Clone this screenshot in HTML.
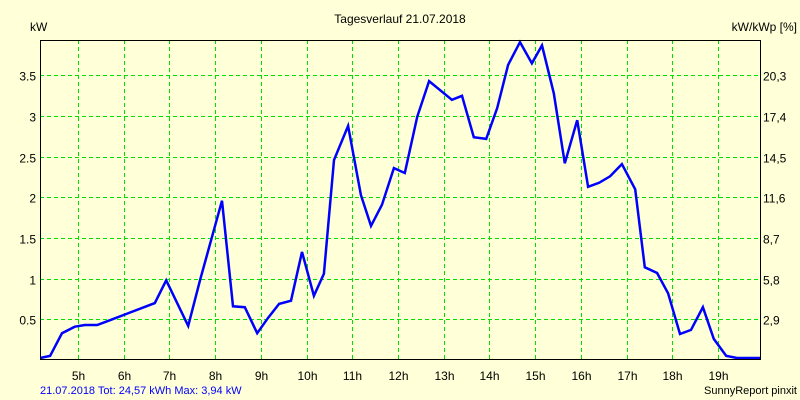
<!DOCTYPE html>
<html><head><meta charset="utf-8"><style>
html,body{margin:0;padding:0;background:#ffffd8;}
svg{display:block;font-family:"Liberation Sans",sans-serif;}
</style></head><body>
<svg id="chart" width="800" height="400" viewBox="0 0 800 400">
<rect x="0" y="0" width="800" height="400" fill="#ffffd8"/>
<text x="400" y="23" text-anchor="middle" font-size="12">Tagesverlauf 21.07.2018</text>
<text x="30" y="31" font-size="12">kW</text>
<text x="797" y="31" text-anchor="end" font-size="12">kW/kWp [%]</text>
<g id="grid"></g>
<g id="series"></g>
<g id="axes"></g>
<text x="40" y="394" font-size="11" fill="#0000ff">21.07.2018 Tot: 24,57 kWh Max: 3,94 kW</text>
<text x="797" y="394" text-anchor="end" font-size="11">SunnyReport pinxit</text>
</svg>
<script>
const hours = [4.17,4.39,4.65,4.93,5.15,5.42,5.70,6.68,6.93,7.41,7.67,8.15,8.39,8.65,8.92,9.16,9.40,9.66,9.90,10.16,10.38,10.60,10.91,11.19,11.41,11.65,11.91,12.15,12.42,12.68,13.18,13.40,13.66,13.93,14.17,14.41,14.67,14.93,15.15,15.41,15.65,15.92,16.16,16.40,16.64,16.90,17.19,17.40,17.67,17.91,18.17,18.41,18.67,18.91,19.18,19.42,19.92];
const powerKW = [0.02,0.05,0.33,0.41,0.43,0.43,0.49,0.70,0.98,0.42,0.98,1.96,0.66,0.65,0.33,0.52,0.69,0.73,1.33,0.79,1.06,2.46,2.88,2.03,1.65,1.91,2.36,2.30,2.99,3.43,3.20,3.25,2.74,2.72,3.10,3.63,3.91,3.65,3.87,3.28,2.42,2.95,2.13,2.18,2.26,2.41,2.10,1.14,1.07,0.82,0.32,0.37,0.65,0.26,0.05,0.02,0.02];
const xTicks = [5,6,7,8,9,10,11,12,13,14,15,16,17,18,19];
const yTicks = [0.5,1,1.5,2,2.5,3,3.5];
const yTickLabels = ["0.5","1","1.5","2","2.5","3","3.5"];
const y2TickLabels = ["2,9","5,8","8,7","11,6","14,5","17,4","20,3"];

const L=40,R=760,T=40,B=359;
const xScale = h => 78 + (h-5)*45.71;
const yScale = v => 360 - v*81.3;
const NS="http://www.w3.org/2000/svg";
function mk(tag, attrs, parent){const e=document.createElementNS(NS,tag);for(const k in attrs)e.setAttribute(k,attrs[k]);parent.appendChild(e);return e;}
const grid=document.getElementById('grid'), axes=document.getElementById('axes'), series=document.getElementById('series');

xTicks.forEach(h=>{
  const x=Math.round(xScale(h))+0.5;
  const l=mk('line',{x1:x,x2:x,y1:T,y2:B,stroke:'#00e000','stroke-width':1,'stroke-dasharray':'4,3'},grid);
  
  
  const t=mk('text',{x:x,y:380,'text-anchor':'middle','font-size':12},axes);
  t.textContent=h+'h';
  
  
});
yTicks.forEach((v,i)=>{
  const y=Math.round(yScale(v))+0.5;
  const l=mk('line',{x1:L,x2:R,y1:y,y2:y,stroke:'#00e000','stroke-width':1,'stroke-dasharray':'4,3'},grid);
  
  
  const t=mk('text',{x:36,y:y+5,'text-anchor':'end','font-size':12},axes);
  t.textContent=yTickLabels[i];
  
  
  const t2=mk('text',{x:763,y:y+5,'font-size':12},axes);
  t2.textContent=y2TickLabels[i];
  
  
});
const frame=mk('path',{d:`M${L+0.5},${T} V${B+0.5} H${R+0.5} V${T+0.5} H${L}`,fill:'none',stroke:'#000','stroke-width':1},axes);



const pts=hours.map((h,i)=>xScale(h).toFixed(1)+','+Math.min(yScale(powerKW[i]),358).toFixed(1)).join(' ');
const line=mk('polyline',{points:pts,fill:'none',stroke:'#0000ff','stroke-width':2.5,'stroke-linejoin':'miter'},series);


</script>
</body></html>
